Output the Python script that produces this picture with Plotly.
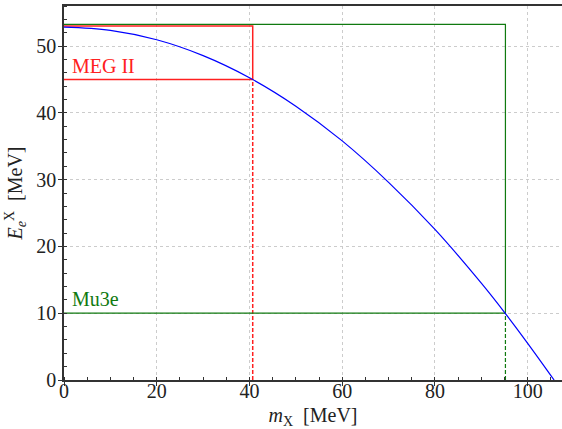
import plotly.graph_objects as go

# Curve E_e^X vs m_X
m_x = [0, 10, 20, 30, 40, 50, 60, 70, 80, 90, 95.2, 100, 105.7]
e_e = [52.83, 52.36, 50.94, 48.57, 45.26, 41.0, 35.8, 29.6, 22.55, 14.5, 9.95, 5.5, 0.0]

# Experiment thresholds
meg_mx, meg_ee, meg_top = 40.7, 45.0, 53.0
mu3e_mx, mu3e_ee, mu3e_top = 95.2, 10.0, 53.25

RED = "#ff2020"
GREEN = "#107a10"
FONT = "Liberation Serif"

fig = go.Figure()

# MEG II box
fig.add_trace(go.Scatter(x=[0, meg_mx, meg_mx, 0], y=[meg_top, meg_top, meg_ee, meg_ee],
                         mode="lines", line=dict(color=RED, width=1.5), hoverinfo="skip"))
fig.add_trace(go.Scatter(x=[meg_mx, meg_mx], y=[0, meg_ee], mode="lines",
                         line=dict(color=RED, width=1.5, dash="4px,2px"), hoverinfo="skip"))
# Mu3e box
fig.add_trace(go.Scatter(x=[0, mu3e_mx, mu3e_mx, 0], y=[mu3e_top, mu3e_top, mu3e_ee, mu3e_ee],
                         mode="lines", line=dict(color=GREEN, width=1.2), hoverinfo="skip"))
fig.add_trace(go.Scatter(x=[mu3e_mx, mu3e_mx], y=[0, mu3e_ee], mode="lines",
                         line=dict(color=GREEN, width=1.2, dash="4px,2px"), hoverinfo="skip"))
# Kinematic curve
fig.add_trace(go.Scatter(x=m_x, y=e_e, mode="lines", line=dict(color="blue", width=1.2, shape="spline"),
                         hoverinfo="skip"))

fig.add_annotation(x=1.3, y=47.0, text="MEG II", showarrow=False, xanchor="left", yanchor="middle",
                   font=dict(family=FONT, size=20, color=RED))
fig.add_annotation(x=1.3, y=12.2, text="Mu3e", showarrow=False, xanchor="left", yanchor="middle",
                   font=dict(family=FONT, size=20, color=GREEN))

axis_common = dict(
    showgrid=True, gridcolor="#cccccc", griddash="3px,3px", gridwidth=1,
    zeroline=False, showline=True, linecolor="#333", linewidth=1.5,
    ticks="outside", ticklen=4, tickcolor="#333",
    tickfont=dict(family=FONT, size=20, color="#222"),
)

fig.update_xaxes(range=[0, 107.4], dtick=20, tick0=0, mirror=True, ticklabelstandoff=-12,
                 minor=dict(dtick=5, ticks="inside", ticklen=3, tickcolor="#333", showgrid=False),
                 title=dict(text="<i>m</i><sub>X</sub>  [MeV]", font=dict(family=FONT, size=20, color="#222"),
                            standoff=12),
                 **axis_common)
fig.update_yaxes(range=[0, 56], dtick=10, tick0=0, mirror=False, ticklabelstandoff=-2,
                 minor=dict(dtick=2, ticks="inside", ticklen=3, tickcolor="#333", showgrid=False),
                 title=dict(text="<i>E</i><sub><i>e</i></sub><sup>X</sup>  [MeV]",
                            font=dict(family=FONT, size=20, color="#222"), standoff=8),
                 **axis_common)

fig.update_layout(width=562, height=429, margin=dict(l=64, r=0, t=6, b=49, autoexpand=False),
                  plot_bgcolor="white", paper_bgcolor="white", showlegend=False)

fig.write_html("out.html", config={"displayModeBar": False},
               post_script="document.body.style.margin='0';document.body.style.overflow='hidden';")
